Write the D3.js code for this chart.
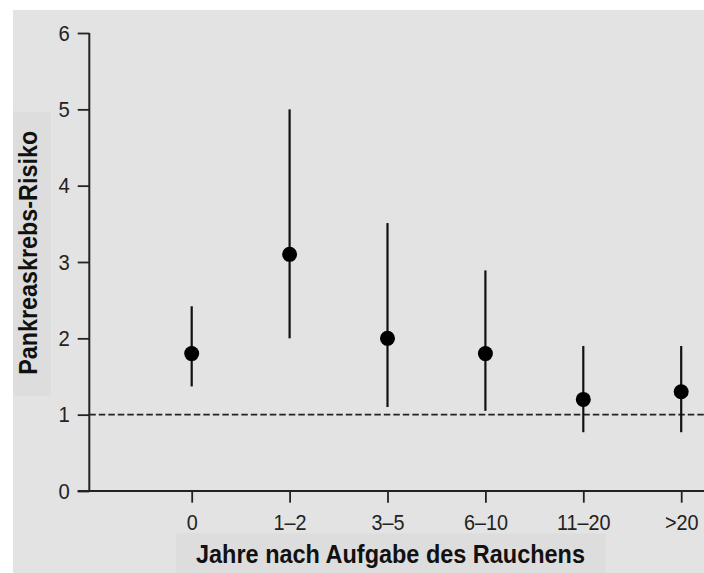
<!DOCTYPE html>
<html>
<head>
<meta charset="utf-8">
<script src="https://cdn.jsdelivr.net/npm/d3@7"></script>
<style>
  html, body { margin: 0; padding: 0; background: #ffffff; }
  svg { display: block; }
  text { font-family: "Liberation Sans", Arial, Helvetica, sans-serif; }
</style>
</head>
<body>
<svg id="chart" width="704" height="573"></svg>
<script>
// ---- Data ----
const categories = ["0", "1\u20132", "3\u20135", "6\u201310", "11\u201320", ">20"];
const riskValues = [1.8, 3.1, 2.0, 1.8, 1.2, 1.3];
const lowerCI    = [1.37, 2.0, 1.1, 1.05, 0.77, 0.77];
const upperCI    = [2.42, 5.0, 3.51, 2.89, 1.9, 1.9];
const yTicks     = [0, 1, 2, 3, 4, 5, 6];
const referenceValue = 1;
const yTitle = "Pankreaskrebs-Risiko";
const xTitle = "Jahre nach Aufgabe des Rauchens";

const data = categories.map((c, i) => ({ cat: c, v: riskValues[i], lo: lowerCI[i], hi: upperCI[i] }));

const svg = d3.select("#chart");
const W = 704, H = 573;
const axisX = 89.3, axisY = 491;

// background
svg.append("rect").attr("x", 13).attr("y", 10).attr("width", W - 13).attr("height", H - 10).attr("fill", "#e3e3e3");

const y = d3.scaleLinear().domain([0, 6]).range([axisY, 33]);
const x = d3.scalePoint().domain(categories).range([191.7, 681.2]).padding(0);

// title boxes
svg.append("rect").attr("x", 13.3).attr("y", 111.7).attr("width", 37.7).attr("height", 284).attr("fill", "#dddddd");
svg.append("rect").attr("x", 176).attr("y", 533.3).attr("width", 429.7).attr("height", H - 533.3).attr("fill", "#dddddd");

function condense(sel, f) {
  sel.each(function () {
    const len = this.getComputedTextLength();
    d3.select(this).attr("textLength", len * f).attr("lengthAdjust", "spacingAndGlyphs");
  });
}

// y axis
const gy = svg.append("g").attr("transform", `translate(${axisX},0)`)
  .call(d3.axisLeft(y).tickValues(yTicks).tickFormat(d3.format("d")).tickSize(11.6).tickPadding(8));
gy.select(".domain").remove();
gy.selectAll(".tick line").attr("stroke", "#222").attr("stroke-width", 1.8);
gy.selectAll(".tick text").attr("font-size", "22.5px").attr("fill", "#222").attr("font-family", "Liberation Sans, Arial, sans-serif")
  .call(condense, 0.9);

// x axis
const gx = svg.append("g").attr("transform", `translate(0,${axisY})`)
  .call(d3.axisBottom(x).tickSize(11.7).tickPadding(11.8));
gx.select(".domain").remove();
gx.selectAll(".tick line").attr("stroke", "#222").attr("stroke-width", 1.8);
gx.selectAll(".tick text").attr("font-size", "22.5px").attr("fill", "#222").attr("font-family", "Liberation Sans, Arial, sans-serif")
  .call(condense, 0.88);

// axis lines
svg.append("line").attr("x1", axisX).attr("x2", axisX).attr("y1", y(6)).attr("y2", axisY)
  .attr("stroke", "#222").attr("stroke-width", 2);
svg.append("line").attr("x1", axisX - 11.6).attr("x2", W).attr("y1", axisY).attr("y2", axisY)
  .attr("stroke", "#222").attr("stroke-width", 2);

// reference dashed line
svg.append("line").attr("x1", axisX).attr("x2", W).attr("y1", y(referenceValue)).attr("y2", y(referenceValue))
  .attr("stroke", "#222").attr("stroke-width", 1.6).attr("stroke-dasharray", "6.5,3");

// error bars
svg.selectAll(".err").data(data).join("line").attr("class", "err")
  .attr("x1", d => x(d.cat)).attr("x2", d => x(d.cat))
  .attr("y1", d => y(d.hi)).attr("y2", d => y(d.lo))
  .attr("stroke", "#111").attr("stroke-width", 2.2);

// points
svg.selectAll(".pt").data(data).join("circle").attr("class", "pt")
  .attr("cx", d => x(d.cat)).attr("cy", d => y(d.v)).attr("r", 7.5)
  .attr("fill", "#000");

// titles
svg.append("text")
  .attr("transform", `translate(37.3,252.8) rotate(-90)`)
  .attr("text-anchor", "middle")
  .attr("font-weight", "bold").attr("font-size", "25px").attr("fill", "#111")
  .attr("textLength", 244).attr("lengthAdjust", "spacingAndGlyphs")
  .text(yTitle);

svg.append("text")
  .attr("x", 390.5).attr("y", 563)
  .attr("text-anchor", "middle")
  .attr("font-weight", "bold").attr("font-size", "25px").attr("fill", "#111")
  .attr("textLength", 389).attr("lengthAdjust", "spacingAndGlyphs")
  .text(xTitle);
</script>
</body>
</html>
